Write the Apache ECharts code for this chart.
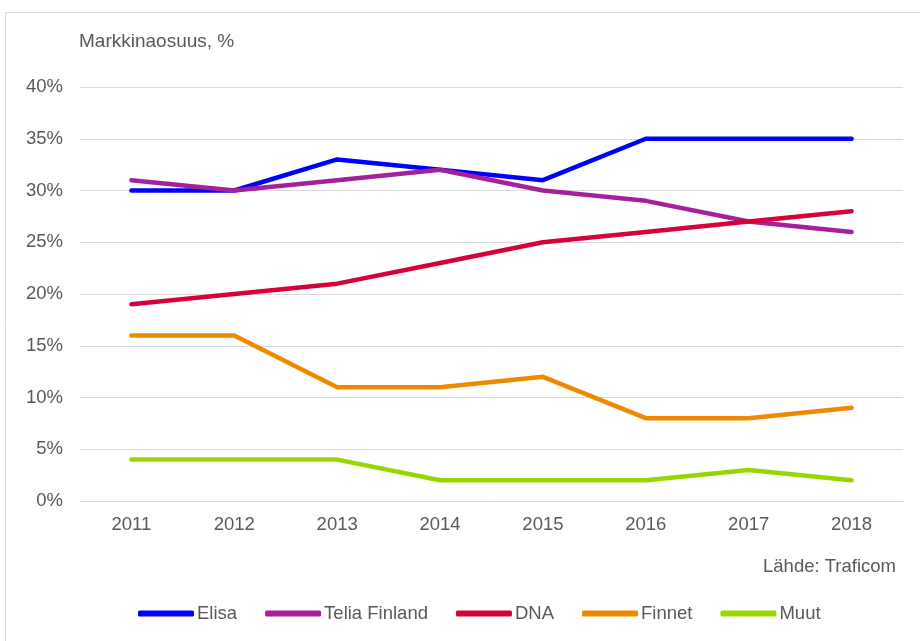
<!DOCTYPE html>
<html><head><meta charset="utf-8">
<script src="https://cdn.jsdelivr.net/npm/echarts@6/dist/echarts.min.js"></script>
<style>html,body{margin:0;padding:0;background:#fff}#c{width:920px;height:641px}</style>
</head><body><div id="c"></div>
<script>
const years = ['2011','2012','2013','2014','2015','2016','2017','2018'];
const elisa = [30,30,33,32,31,35,35,35];
const telia = [31,30,31,32,30,29,27,26];
const dna = [19,20,21,23,25,26,27,28];
const finnet = [16,16,11,11,12,8,8,9];
const muut = [4,4,4,2,2,2,3,2];
const names = ['Elisa','Telia Finland','DNA','Finnet','Muut'];
const colors = ['#0000FF','#A5209A','#D6003A','#EE8A00','#99D600'];
const values = [elisa, telia, dna, finnet, muut];

const font = '"Liberation Sans", Arial, sans-serif';
const chart = echarts.init(document.getElementById('c'), null, {renderer:'canvas'});
chart.setOption({
  animation:false,
  backgroundColor:'#fff',
  graphic:[
    {type:'rect', shape:{x:5.5,y:12.5,width:930,height:640}, style:{fill:'none',stroke:'#d9d9d9',lineWidth:1}},
    {type:'text', left:79, top:32, style:{text:'Markkinaosuus, %', font:'19px '+font, fill:'#595959'}},
    {type:'text', right:24, top:557, style:{text:'Lähde: Traficom', font:'18.5px '+font, fill:'#595959'}}
  ],
  grid:{left:80, right:17, top:87, bottom:140, containLabel:false},
  legend:{
    top:599, left:133,
    data:names.map((n,i)=>({name:n, icon:'roundRect'})),
    itemWidth:56, itemHeight:6, itemGap:28,
    textStyle:{fontFamily:font, fontSize:18.5, color:'#595959', padding:[0,0,0,-2]}
  },
  xAxis:{
    type:'category', data:years, boundaryGap:true,
    axisLine:{show:true, lineStyle:{color:'#d9d9d9', width:1}},
    axisTick:{show:false},
    axisLabel:{fontFamily:font, fontSize:18.5, color:'#595959', margin:14}
  },
  yAxis:{
    type:'value', min:0, max:40, interval:5,
    axisLine:{show:false}, axisTick:{show:false},
    splitLine:{lineStyle:{color:'#d9d9d9', width:1}},
    axisLabel:{fontFamily:font, fontSize:18.5, color:'#595959', margin:17, formatter:'{value}%'}
  },
  series: names.map((n,i)=>({
    name:n, type:'line', data:values[i], symbol:'none',
    lineStyle:{color:colors[i], width:4.5, cap:'round', join:'round'},
    itemStyle:{color:colors[i]}
  }))
});
</script></body></html>
